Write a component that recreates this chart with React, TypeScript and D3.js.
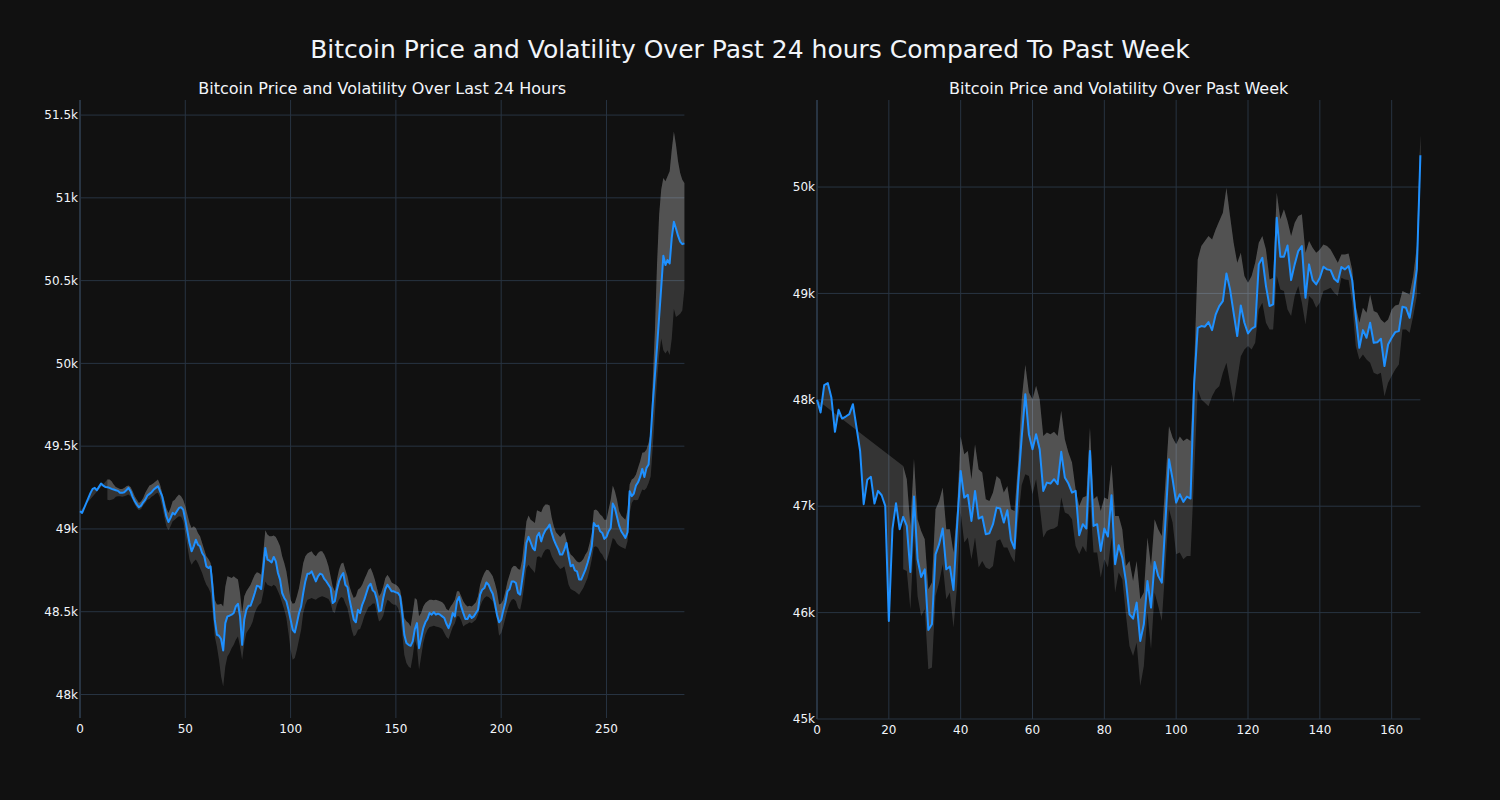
import React from "react";
import * as d3 from "d3";

// ---------- DATA ----------
const price24: number[] = [
  49107,49097,49127,49157,49187,49218,49242,49248,49234,49254,
  49274,49262,49254,49252,49248,49242,49238,49234,49230,49218,
  49218,49222,49234,49248,49228,49194,49167,49147,49131,49141,
  49161,49177,49202,49212,49222,49238,49248,49258,49228,49198,
  49137,49077,49042,49067,49097,49087,49107,49127,49131,49117,
  49056,48986,48915,48865,48895,48935,48905,48895,48855,48835,
  48774,48764,48774,48633,48452,48361,48355,48335,48266,48431,
  48472,48476,48482,48492,48532,48548,48472,48300,48452,48512,
  48536,48536,48573,48613,48657,48653,48637,48754,48885,48815,
  48808,48798,48831,48804,48734,48694,48613,48583,48563,48512,
  48452,48391,48375,48431,48492,48532,48613,48683,48730,48730,
  48744,48714,48683,48714,48730,48724,48698,48683,48663,48643,
  48552,48563,48633,48683,48714,48734,48663,48649,48573,48512,
  48452,48436,48512,48492,48542,48573,48613,48653,48669,48629,
  48617,48573,48502,48508,48583,48637,48663,48643,48623,48623,
  48617,48613,48593,48492,48361,48311,48300,48294,48321,48395,
  48431,48280,48341,48401,48436,48456,48492,48482,48498,48482,
  48488,48482,48472,48462,48427,48401,48436,48492,48472,48563,
  48589,48532,48492,48456,48456,48482,48462,48472,48492,48512,
  48603,48633,48643,48677,48663,48633,48609,48552,48482,48436,
  48452,48508,48556,48623,48637,48683,48683,48673,48613,48603,
  48694,48784,48915,48952,48919,48885,48871,48956,48976,48925,
  48966,48992,49006,49026,48976,48935,48905,48879,48845,48845,
  48875,48915,48835,48774,48784,48750,48744,48694,48694,48724,
  48754,48794,48839,48895,49036,49016,49020,48986,48976,48940,
  48952,48986,49006,49153,49127,49073,49020,48986,48966,48946,
  48980,49228,49198,49214,49262,49282,49314,49363,49314,49369,
  49389,49560,49760,49930,50100,50280,50460,50650,50594,50625,
  50604,50760,50855,50815,50770,50735,50720,50725,
];

const upper24: (number | null)[] = [
  null,null,null,null,null,null,null,null,null,null,null,null,null,
  49298,49298,49288,49268,49254,49248,49242,49242,49248,49258,
  49262,49254,49228,49198,49177,49157,49167,49187,49218,49242,
  49262,49268,49278,49288,49298,49268,49218,49177,49127,49097,
  49127,49167,49177,49194,49208,49198,49177,49137,49087,49036,
  49006,49016,49006,48976,48956,48915,48875,48835,48819,48794,
  48714,48573,48543,48543,48548,48532,48653,48714,48710,48704,
  48714,48704,48694,48613,48492,48593,48623,48643,48663,48694,
  48724,48738,48734,48724,48855,48992,48966,48956,48956,48960,
  48952,48925,48895,48835,48794,48744,48663,48573,48548,48552,
  48593,48643,48714,48794,48835,48851,48859,48865,48845,48835,
  48855,48865,48865,48845,48815,48774,48714,48653,48623,48694,
  48754,48790,48798,48754,48714,48653,48613,48583,48593,48633,
  48643,48663,48694,48724,48754,48764,48734,48694,48643,48593,
  48613,48653,48704,48724,48704,48677,48669,48663,48653,48633,
  48563,48462,48442,48432,48411,48492,48583,48573,48472,48492,
  48532,48552,48563,48573,48573,48569,48573,48567,48563,48557,
  48543,48516,48508,48532,48549,48573,48623,48623,48593,48563,
  48543,48532,48536,48532,48543,48557,48593,48663,48704,48734,
  48754,48750,48734,48714,48673,48623,48543,48549,48573,48623,
  48683,48724,48764,48778,48774,48758,48754,48815,48935,49046,
  49081,49056,49046,49036,49113,49107,49101,49133,49147,49147,
  49141,49067,49016,48980,48966,48952,48966,48980,48935,48875,
  48845,48835,48819,48804,48798,48804,48819,48845,48865,48915,
  48976,49113,49117,49107,49087,49077,49056,49056,49117,49177,
  49262,49228,49177,49107,49081,49067,49056,49117,49268,49298,
  49308,49329,49369,49409,49460,49464,49480,49520,49581,49900,
  50200,50600,50900,51050,51120,51100,51130,51160,51290,51400,
  51320,51220,51150,51110,51090,
];

const lower24: (number | null)[] = [
  null,null,null,null,null,null,null,null,null,null,null,null,null,
  49177,49173,49177,49181,49194,49198,49198,49194,49198,49202,
  49208,49198,49177,49147,49127,49113,49121,49141,49157,49177,
  49181,49194,49202,49214,49218,49188,49137,49077,49016,48992,
  49016,49046,49056,49067,49077,49073,49046,48976,48895,48815,
  48784,48804,48815,48794,48764,48734,48694,48663,48643,48613,
  48492,48351,48290,48210,48109,48048,48169,48230,48250,48280,
  48300,48331,48351,48290,48210,48311,48371,48391,48411,48441,
  48492,48522,48542,48552,48613,48683,48663,48657,48653,48663,
  48653,48623,48593,48552,48512,48462,48371,48270,48210,48220,
  48270,48331,48391,48492,48542,48573,48577,48583,48577,48573,
  48583,48589,48593,48589,48583,48577,48552,48502,48492,48542,
  48573,48589,48583,48549,48522,48462,48391,48351,48361,48391,
  48395,48431,48472,48502,48528,48536,48549,48549,48492,48441,
  48452,48476,48532,48573,48563,48549,48542,48542,48522,48482,
  48371,48240,48190,48169,48159,48230,48331,48290,48149,48230,
  48311,48361,48391,48407,48411,48415,48411,48407,48403,48395,
  48371,48347,48335,48371,48407,48431,48472,48472,48448,48411,
  48421,48427,48436,48431,48441,48452,48482,48532,48563,48583,
  48593,48589,48577,48563,48512,48452,48355,48371,48411,48462,
  48512,48549,48573,48577,48563,48522,48512,48573,48663,48764,
  48784,48764,48750,48734,48831,48835,48825,48855,48875,48879,
  48875,48835,48811,48790,48774,48758,48764,48774,48724,48663,
  48637,48629,48623,48613,48603,48623,48643,48674,48704,48754,
  48815,48891,48895,48885,48859,48845,48819,48804,48845,48895,
  48946,48935,48911,48899,48891,48885,48879,48925,49093,49157,
  49177,49173,49177,49208,49238,49234,49248,49278,49319,49500,
  49700,49900,50050,50150,50080,50060,50080,50050,50150,50330,
  50280,50290,50300,50320,50450,
];

const priceWeek: number[] = [
  48000,47881,48138,48157,48022,47699,47906,47824,47843,47865,
  47959,47740,47520,47019,47248,47276,47025,47144,47103,47003,
  45921,46784,47028,46784,46900,46815,46382,47091,46501,46335,
  46407,45837,45890,46548,46643,46790,46407,46433,46213,46815,
  47332,47081,47107,46862,47144,46884,46903,46737,46746,46831,
  46987,46978,46846,46962,46683,46602,47200,47650,48053,47677,
  47536,47677,47536,47144,47222,47213,47254,47207,47511,47270,
  47213,47128,47144,46727,46831,46790,47520,46815,46831,46580,
  46790,46715,47103,46454,46633,46517,46298,45984,45943,46094,
  45733,45890,46298,46047,46476,46345,46282,46846,47442,47254,
  47034,47113,47041,47091,47072,48150,48677,48693,48687,48730,
  48655,48802,48881,48928,49188,49038,48818,48599,48887,48724,
  48624,48668,48687,49273,49335,49069,48881,48897,49712,49345,
  49345,49451,49125,49273,49398,49445,48959,49273,49125,49085,
  49147,49251,49226,49219,49138,49107,49248,49226,49257,49125,
  48787,48489,48655,48583,48724,48536,48542,48574,48317,48520,
  48583,48636,48646,48875,48865,48771,48975,49226,50298,
];

const upperWeek: (number | null)[] = [
  null,null,null,null,null,null,null,null,null,null,null,null,
  null,null,null,null,null,null,null,null,null,null,null,null,
  47379,47254,46815,47448,46878,46768,46690,46219,46282,46972,
  47050,47175,46784,46784,46564,46972,47655,47489,47520,47254,
  47583,47348,47317,47066,47050,47128,47285,47254,47128,47191,
  46972,46956,47411,48006,48330,48069,48006,48132,48006,47661,
  47693,47677,47699,47661,47897,47630,47505,47411,47160,47003,
  47081,47097,47740,47066,47097,46956,47081,47066,47395,46909,
  46909,46784,46439,46486,46298,46486,46125,46188,46705,46439,
  46878,46784,46721,47223,47755,47646,47583,47655,47614,47636,
  47614,48300,49320,49445,49492,49539,49508,49602,49680,49759,
  49994,49727,49476,49288,49382,49163,49100,49163,49288,49476,
  49539,49414,49132,49147,49947,49696,49790,49680,49539,49665,
  49727,49743,49382,49492,49429,49382,49414,49461,49445,49414,
  49351,49288,49367,49367,49376,49226,48881,48724,48865,48818,
  48991,48834,48818,48755,48724,48755,48850,48887,48897,49022,
  49006,48991,49163,49445,50495,
];

const lowerWeek: (number | null)[] = [
  null,null,null,null,null,null,null,null,null,null,null,null,
  null,null,null,null,null,null,null,null,null,null,null,null,
  46407,46392,46031,46721,46157,45969,46031,45467,45483,46157,
  46282,46454,46125,46188,45859,46251,46940,46658,46706,46501,
  46706,46423,46486,46423,46407,46439,46674,46690,46611,46611,
  46533,46470,46878,47200,47300,47285,47113,47254,47003,46706,
  46768,46784,46790,46815,47081,46940,46925,46878,46627,46548,
  46627,46564,47066,46564,46564,46329,46501,46423,46706,46188,
  46376,46313,45984,45686,45592,45718,45310,45498,46000,45655,
  46188,46063,45921,46439,46972,46846,46548,46564,46501,46533,
  46533,47300,48097,48003,47972,47940,48034,48097,48128,48254,
  48348,48160,47972,48191,48410,48473,48505,48473,48536,48850,
  48912,48724,48661,48661,49163,49038,49022,48850,48787,48975,
  49069,48912,48708,48975,48944,48865,48912,49022,49038,49053,
  49006,48975,49147,49132,49125,48912,48505,48379,48426,48379,
  48348,48254,48238,48254,48034,48160,48223,48285,48332,48661,
  48661,48630,48787,48975,50104,
];

const xTicks24 = [0, 50, 100, 150, 200, 250];
const yTicks24 = [48000, 48500, 49000, 49500, 50000, 50500, 51000, 51500];
const xTicksWeek = [0, 20, 40, 60, 80, 100, 120, 140, 160];
const yTicksWeek = [45000, 46000, 47000, 48000, 49000, 50000];

const mainTitle = "Bitcoin Price and Volatility Over Past 24 hours Compared To Past Week";
const title24 = "Bitcoin Price and Volatility Over Last 24 Hours";
const titleWeek = "Bitcoin Price and Volatility Over Past Week";

// ---------- STYLE ----------
const BG = "#111111";
const GRID = "#283442";
const TEXT = "#f2f5fa";
const LINE = "#1e90ff";
const FILL = "rgba(255,255,255,0.15)";
const FONT = "'DejaVu Sans', verdana, arial, sans-serif";

type PanelProps = {
  price: number[];
  upper: (number | null)[];
  lower: (number | null)[];
  xDomain: [number, number];
  yDomain: [number, number];
  left: number;
  right: number;
  top: number;
  bottom: number;
  xTicks: number[];
  yTicks: number[];
  title: string;
};

function Panel(p: PanelProps) {
  const x = d3.scaleLinear().domain(p.xDomain).range([p.left, p.right]);
  const y = d3.scaleLinear().domain(p.yDomain).range([p.bottom, p.top]);
  const idx = d3.range(p.price.length);
  const first = p.upper.findIndex((v) => v != null);

  const upPts: [number, number][] = [];
  idx.forEach((i) => upPts.push([x(i), y(p.price[i])]));
  for (let i = p.price.length - 1; i >= first; i--) upPts.push([x(i), y(p.upper[i] as number)]);
  const bandPts: [number, number][] = [];
  for (let i = first; i < p.price.length; i++) bandPts.push([x(i), y(p.lower[i] as number)]);
  for (let i = p.price.length - 1; i >= first; i--) bandPts.push([x(i), y(p.upper[i] as number)]);

  const poly = (pts: [number, number][]) => "M" + pts.map((d) => d.join(",")).join("L") + "Z";
  const line = d3
    .line<number>()
    .x((i) => x(i))
    .y((i) => y(p.price[i]));

  const fmt = d3.format("~s");
  return (
    <g>
      {p.yTicks.map((t) => (
        <line key={"gy" + t} x1={p.left} x2={p.right} y1={y(t)} y2={y(t)} stroke={GRID} strokeWidth={1} />
      ))}
      {p.xTicks.filter((t) => t !== 0).map((t) => (
        <line key={"gx" + t} x1={x(t)} x2={x(t)} y1={p.top} y2={p.bottom} stroke={GRID} strokeWidth={1} />
      ))}
      <line x1={x(0)} x2={x(0)} y1={p.top} y2={p.bottom} stroke={GRID} strokeWidth={2} />
      <path d={poly(bandPts)} fill={FILL} stroke="none" />
      <path d={poly(upPts)} fill={FILL} stroke="none" />
      <path d={line(idx) || ""} fill="none" stroke={LINE} strokeWidth={2} strokeLinejoin="round" />
      {p.yTicks.map((t) => (
        <text key={"ty" + t} x={p.left - 2} y={y(t)} dy="0.35em" textAnchor="end" fontSize={12} fill={TEXT} fontFamily={FONT}>
          {fmt(t)}
        </text>
      ))}
      {p.xTicks.map((t) => (
        <text key={"tx" + t} x={x(t)} y={p.bottom + 15} textAnchor="middle" fontSize={12} fill={TEXT} fontFamily={FONT}>
          {t}
        </text>
      ))}
      <text x={(p.left + p.right) / 2} y={p.top - 6} textAnchor="middle" fontSize={16} fill={TEXT} fontFamily={FONT}>
        {p.title}
      </text>
    </g>
  );
}

export default function App() {
  return (
    <div>
      <style>{`html,body{margin:0;padding:0;background:${BG};}`}</style>
      <svg width={1500} height={800} style={{ display: "block", background: BG }}>
        <rect x={0} y={0} width={1500} height={800} fill={BG} />
        <text x={750} y={58} textAnchor="middle" fontSize={25} fill={TEXT} fontFamily={FONT}>
          {mainTitle}
        </text>
        <Panel
          price={price24}
          upper={upper24}
          lower={lower24}
          xDomain={[0, price24.length - 1]}
          yDomain={[47858, 51591]}
          left={80}
          right={684.4}
          top={100}
          bottom={718}
          xTicks={xTicks24}
          yTicks={yTicks24}
          title={title24}
        />
        <Panel
          price={priceWeek}
          upper={upperWeek}
          lower={lowerWeek}
          xDomain={[0, priceWeek.length - 1]}
          yDomain={[45000, 50818]}
          left={817}
          right={1420.4}
          top={100}
          bottom={719}
          xTicks={xTicksWeek}
          yTicks={yTicksWeek}
          title={titleWeek}
        />
      </svg>
    </div>
  );
}
